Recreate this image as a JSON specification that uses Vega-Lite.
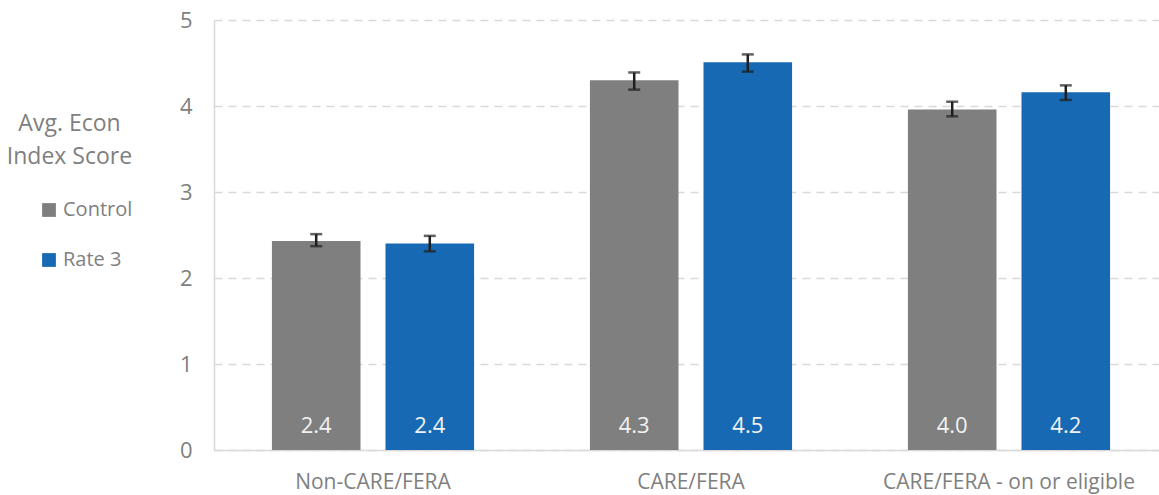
{
  "$schema": "https://vega.github.io/schema/vega-lite/v6.json",
  "autosize": {"type": "none"},
  "padding": {"left": 214, "top": 20, "right": 0, "bottom": 45},
  "width": 954,
  "height": 430,
  "background": "white",
  "config": {
    "font": "Open Sans",
    "view": {"stroke": null}
  },
  "data": {
    "values": [
      {"group": "Non-CARE/FERA", "series": "Control", "value": 2.43, "lo": 2.37, "hi": 2.51},
      {"group": "Non-CARE/FERA", "series": "Rate 3", "value": 2.40, "lo": 2.31, "hi": 2.49},
      {"group": "CARE/FERA", "series": "Control", "value": 4.30, "lo": 4.19, "hi": 4.39},
      {"group": "CARE/FERA", "series": "Rate 3", "value": 4.51, "lo": 4.40, "hi": 4.60},
      {"group": "CARE/FERA - on or eligible", "series": "Control", "value": 3.96, "lo": 3.88, "hi": 4.05},
      {"group": "CARE/FERA - on or eligible", "series": "Rate 3", "value": 4.16, "lo": 4.07, "hi": 4.24}
    ]
  },
  "encoding": {
    "x": {
      "field": "group",
      "type": "nominal",
      "sort": null,
      "scale": {"paddingInner": 0, "paddingOuter": 0},
      "axis": {
        "title": null,
        "labelAngle": 0,
        "labelFontSize": 21,
        "labelColor": "#7f7f7f",
        "labelPadding": 21,
        "labelLimit": 0,
        "ticks": false,
        "domainColor": "#d9d9d9",
        "domainWidth": 1.5
      }
    },
    "xOffset": {
      "field": "series",
      "type": "nominal",
      "scale": {"paddingInner": 0.22, "paddingOuter": 0.51}
    }
  },
  "layer": [
    {
      "mark": {"type": "bar"},
      "encoding": {
        "y": {
          "field": "value",
          "type": "quantitative",
          "scale": {"domain": [0, 5]},
          "axis": {
            "values": [0, 1, 2, 3, 4, 5],
            "format": "d",
            "title": ["Avg. Econ", "Index Score"],
            "titleAngle": 0,
            "titleX": -145,
            "titleY": 103,
            "titleAlign": "center",
            "titleBaseline": "middle",
            "titleFontSize": 23,
            "titleFontWeight": "normal",
            "titleColor": "#7f7f7f",
            "titleLineHeight": 33,
            "labelFontSize": 22,
            "labelColor": "#7f7f7f",
            "labelPadding": 22,
            "ticks": false,
            "domainColor": "#d9d9d9",
            "domainWidth": 1.5,
            "gridColor": "#d9d9d9",
            "gridDash": [8, 6],
            "gridWidth": 1.5
          }
        },
        "color": {
          "field": "series",
          "type": "nominal",
          "scale": {"domain": ["Control", "Rate 3"], "range": ["#7f7f7f", "#1769b4"]},
          "legend": {
            "title": null,
            "orient": "none",
            "legendX": -175,
            "legendY": 180,
            "symbolType": "square",
            "symbolSize": 190,
            "symbolStrokeWidth": 0,
            "labelFontSize": 20,
            "labelColor": "#7f7f7f",
            "labelOffset": 4,
            "rowPadding": 30
          }
        }
      }
    },
    {
      "mark": {"type": "rule", "color": "#1f1f1f", "strokeWidth": 2.5},
      "encoding": {
        "y": {"field": "lo", "type": "quantitative"},
        "y2": {"field": "hi"}
      }
    },
    {
      "mark": {"type": "tick", "color": "#1f1f1f", "thickness": 2.5, "size": 12, "orient": "horizontal"},
      "encoding": {
        "y": {"field": "lo", "type": "quantitative"}
      }
    },
    {
      "mark": {"type": "tick", "color": "#1f1f1f", "thickness": 2.5, "size": 12, "orient": "horizontal"},
      "encoding": {
        "y": {"field": "hi", "type": "quantitative"}
      }
    },
    {
      "mark": {"type": "text", "color": "#f2f2f2", "fontSize": 22, "baseline": "middle", "dy": -24},
      "encoding": {
        "y": {"datum": 0, "type": "quantitative"},
        "text": {"field": "value", "type": "quantitative", "format": ".1f"}
      }
    }
  ]
}
